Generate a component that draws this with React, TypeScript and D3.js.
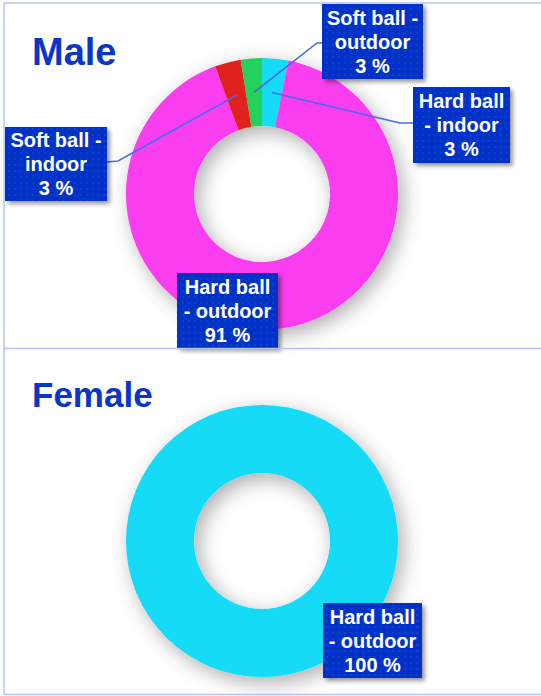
import React from 'react';
import { pie, arc } from 'd3';

// slices are listed clockwise from 12 o'clock
const maleCategories = ['Hard ball - indoor', 'Hard ball - outdoor', 'Soft ball - indoor', 'Soft ball - outdoor'];
const maleValues = [3.1, 91.3, 3.1, 2.5];
const femaleCategories = ['Hard ball - outdoor'];
const femaleValues = [100];
const sliceColors = ['#17dbf7', '#fb3ef0', '#e0241e', '#22d25a'];

// how each category name wraps in its callout box
const wrapped: Record<string, string[]> = {
  'Hard ball - indoor': ['Hard ball', '- indoor'],
  'Hard ball - outdoor': ['Hard ball', '- outdoor'],
  'Soft ball - indoor': ['Soft ball -', 'indoor'],
  'Soft ball - outdoor': ['Soft ball -', 'outdoor'],
};

type Callout = { x: number; y: number; w: number; h: number; elbow?: [number, number]; end?: [number, number] };

const maleCallouts: Record<string, Callout> = {
  'Soft ball - outdoor': { x: 322, y: 4, w: 101, h: 75, elbow: [317, 43], end: [322, 43] },
  'Hard ball - indoor': { x: 413, y: 87, w: 97, h: 76, elbow: [400, 123], end: [413, 123] },
  'Soft ball - indoor': { x: 5, y: 127, w: 102, h: 74, elbow: [118, 161], end: [107, 162] },
  'Hard ball - outdoor': { x: 177, y: 273, w: 101, h: 75 },
};
const femaleCallouts: Record<string, Callout> = {
  'Hard ball - outdoor': { x: 323, y: 603, w: 99, h: 75 },
};

const outerR = 136;
const innerR = 68;
const ring = arc<any>().innerRadius(innerR).outerRadius(outerR);
const pieGen = pie<number>().sort(null).value((d) => d);

const Donut = ({ title, titleSize, titleY, cx, cy, categories, values, callouts }: any) => {
  const slices = pieGen(values);
  return (
    <g>
      <text x={32} y={titleY} fontSize={titleSize} fontWeight="bold" fill="#0a35c8" fontFamily="Liberation Sans, Arial, sans-serif">
        {title}
      </text>
      <g transform={`translate(${cx},${cy})`} filter="url(#ringShadow)">
        {slices.map((s, i) => (
          <path key={categories[i]} d={ring(s) as string} fill={sliceColors[i]} />
        ))}
      </g>
      {slices.map((s, i) => {
        const c = callouts[categories[i]];
        if (!c || !c.elbow) return null;
        const [mx, my] = ring.centroid(s);
        return (
          <polyline
            key={'l' + i}
            points={`${cx + mx},${cy + my} ${c.elbow[0]},${c.elbow[1]} ${c.end[0]},${c.end[1]}`}
            fill="none"
            stroke="#3f6fec"
            strokeWidth={1.5}
          />
        );
      })}
      {slices.map((s, i) => {
        const c = callouts[categories[i]];
        if (!c) return null;
        const lines = [...wrapped[categories[i]], `${Math.round(values[i])} %`];
        return (
          <g key={'b' + i}>
            <rect x={c.x} y={c.y} width={c.w} height={c.h} fill="#0432c8" filter="url(#boxShadow)" />
            <rect x={c.x} y={c.y} width={c.w} height={c.h} fill="url(#dots)" />
            {lines.map((t, k) => (
              <text
                key={k}
                x={c.x + c.w / 2}
                y={c.y + c.h / 2 - 24 + k * 24 + 7}
                textAnchor="middle"
                fontSize={20}
                fontWeight="bold"
                fill="#ffffff"
                fontFamily="Liberation Sans, Arial, sans-serif"
              >
                {t}
              </text>
            ))}
          </g>
        );
      })}
    </g>
  );
};

export default function App() {
  return (
    <svg width={541} height={696} style={{ position: 'absolute', left: 0, top: 0, background: '#fff' }}>
      <defs>
        <filter id="ringShadow" x="-30%" y="-30%" width="160%" height="160%">
          <feDropShadow dx={5} dy={6} stdDeviation={10} floodColor="#000" floodOpacity={0.32} />
        </filter>
        <filter id="boxShadow" x="-20%" y="-20%" width="140%" height="140%">
          <feDropShadow dx={3} dy={3} stdDeviation={2} floodColor="#000" floodOpacity={0.4} />
        </filter>
        <pattern id="dots" width={6} height={6} patternUnits="userSpaceOnUse">
          <circle cx={3} cy={3} r={1} fill="#ffffff" fillOpacity={0.08} />
        </pattern>
      </defs>
      <rect x={0} y={0} width={541} height={696} fill="#fff" />
      <Donut
        title="Male"
        titleSize={38}
        titleY={65}
        cx={262}
        cy={194}
        categories={maleCategories}
        values={maleValues}
        callouts={maleCallouts}
      />
      <Donut
        title="Female"
        titleSize={35}
        titleY={407}
        cx={262}
        cy={541}
        categories={femaleCategories}
        values={femaleValues}
        callouts={femaleCallouts}
      />
      <g stroke="#b5c4f8" strokeWidth={1.5} fill="none">
        <line x1={4} y1={3} x2={541} y2={3} />
        <line x1={4} y1={3} x2={4} y2={695} />
        <line x1={4} y1={348.5} x2={541} y2={348.5} />
        <line x1={4} y1={694.5} x2={541} y2={694.5} />
      </g>
    </svg>
  );
}
